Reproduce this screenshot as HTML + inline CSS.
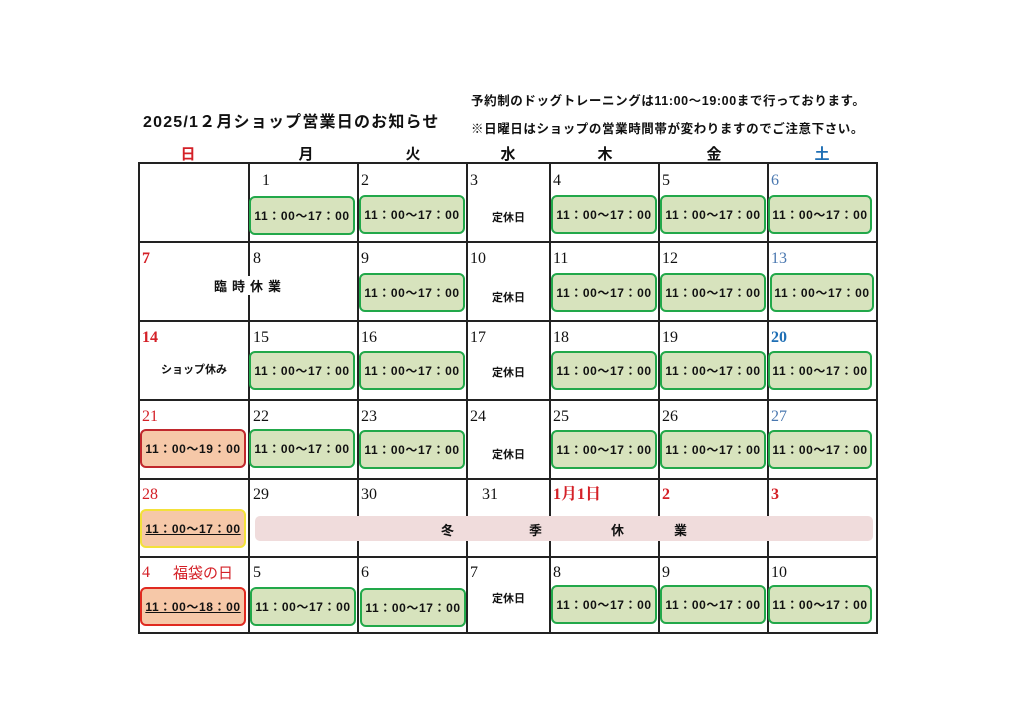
<!DOCTYPE html>
<html><head><meta charset="utf-8"><style>
*{margin:0;padding:0;box-sizing:border-box}
body{width:1024px;height:724px;background:#fff;position:relative;overflow:hidden;font-family:"Liberation Sans","Noto Sans CJK JP",sans-serif;color:#111}
div,span{position:absolute}
.h{top:143px;font-size:15px;font-weight:bold;width:30px;text-align:center;margin-left:-15px}
.v{background:#222;width:2px}
.hl{background:#222;height:2px;left:139px;width:738px}
.d{font-family:"Liberation Serif","Noto Serif CJK SC",serif;font-size:16px;line-height:18px}
.r{color:#d42027}.bl{color:#4a78b0}
.b{width:106px;height:39px;border:2.5px solid #22a84a;border-radius:6px;background:#d7e3bd;display:flex;align-items:center;justify-content:center;font-size:12px;font-weight:bold;letter-spacing:.6px;white-space:nowrap}
.k{font-size:11px;font-weight:bold}
</style></head><body>
<div style="left:143px;top:108px;font-size:16px;font-weight:bold;letter-spacing:1.2px">2025/1２月ショップ営業日のお知らせ</div>
<div style="left:471px;top:90px;font-size:12.5px;font-weight:bold;letter-spacing:.6px">予約制のドッグトレーニングは11:00～19:00まで行っております。</div>
<div style="left:471px;top:118px;font-size:12.5px;font-weight:bold;letter-spacing:.6px">※日曜日はショップの営業時間帯が変わりますのでご注意下さい。</div>
<span class="h r" style="left:188px">日</span><span class="h" style="left:306px">月</span><span class="h" style="left:413px">火</span><span class="h" style="left:508px">水</span><span class="h" style="left:605px">木</span><span class="h" style="left:714px">金</span><span class="h" style="left:822px;color:#1f6fb5">土</span>
<div class="hl" style="top:162px"></div><div class="hl" style="top:241px"></div><div class="hl" style="top:320px"></div><div class="hl" style="top:399px"></div><div class="hl" style="top:478px"></div><div class="hl" style="top:556px"></div><div class="hl" style="top:632px"></div>
<div class="v" style="left:138px;top:162px;height:472px"></div><div class="v" style="left:248px;top:162px;height:472px"></div><div class="v" style="left:357px;top:162px;height:472px"></div><div class="v" style="left:466px;top:162px;height:472px"></div><div class="v" style="left:549px;top:162px;height:472px"></div><div class="v" style="left:658px;top:162px;height:472px"></div><div class="v" style="left:767px;top:162px;height:472px"></div><div class="v" style="left:876px;top:162px;height:472px"></div>
<span class="d" style="left:262px;top:172px">1</span><span class="d" style="left:361px;top:172px">2</span><span class="d" style="left:470px;top:172px">3</span><span class="d" style="left:553px;top:172px">4</span><span class="d" style="left:662px;top:172px">5</span><span class="d bl" style="left:771px;top:172px">6</span>
<div class="b" style="left:249px;top:196px">11：00～17：00</div><div class="b" style="left:359px;top:195px">11：00～17：00</div><span class="k" style="left:492px;top:209px">定休日</span><div class="b" style="left:551px;top:195px">11：00～17：00</div><div class="b" style="left:660px;top:195px">11：00～17：00</div><div class="b" style="left:768px;top:195px;width:104px">11：00～17：00</div>
<span class="d r" style="left:142px;top:250px;font-weight:bold">7</span><span class="d" style="left:253px;top:250px">8</span><span class="d" style="left:361px;top:250px">9</span><span class="d" style="left:470px;top:250px">10</span><span class="d" style="left:553px;top:250px">11</span><span class="d" style="left:662px;top:250px">12</span><span class="d bl" style="left:771px;top:250px">13</span>
<span style="left:214px;top:276px;font-size:13px;font-weight:bold;letter-spacing:5px;background:#fff">臨時休業</span>
<div class="b" style="left:359px;top:273px">11：00～17：00</div><span class="k" style="left:492px;top:289px">定休日</span><div class="b" style="left:551px;top:273px">11：00～17：00</div><div class="b" style="left:660px;top:273px">11：00～17：00</div><div class="b" style="left:770px;top:273px;width:104px">11：00～17：00</div>
<span class="d r" style="left:142px;top:329px;font-weight:bold">14</span><span class="d" style="left:253px;top:329px">15</span><span class="d" style="left:361px;top:329px">16</span><span class="d" style="left:470px;top:329px">17</span><span class="d" style="left:553px;top:329px">18</span><span class="d" style="left:662px;top:329px">19</span><span class="d" style="left:771px;top:329px;color:#1f6fb5;font-weight:bold">20</span>
<span class="k" style="left:161px;top:361px">ショップ休み</span>
<div class="b" style="left:249px;top:351px">11：00～17：00</div><div class="b" style="left:359px;top:351px">11：00～17：00</div><span class="k" style="left:492px;top:364px">定休日</span><div class="b" style="left:551px;top:351px">11：00～17：00</div><div class="b" style="left:660px;top:351px">11：00～17：00</div><div class="b" style="left:768px;top:351px;width:104px">11：00～17：00</div>
<span class="d r" style="left:142px;top:408px">21</span><span class="d" style="left:253px;top:408px">22</span><span class="d" style="left:361px;top:408px">23</span><span class="d" style="left:470px;top:408px">24</span><span class="d" style="left:553px;top:408px">25</span><span class="d" style="left:662px;top:408px">26</span><span class="d bl" style="left:771px;top:408px">27</span>
<div class="b" style="left:140px;top:429px;border-color:#c0282d;background:#f6c8a8">11：00～19：00</div>
<div class="b" style="left:249px;top:429px">11：00～17：00</div><div class="b" style="left:359px;top:430px">11：00～17：00</div><span class="k" style="left:492px;top:446px">定休日</span><div class="b" style="left:551px;top:430px">11：00～17：00</div><div class="b" style="left:660px;top:430px">11：00～17：00</div><div class="b" style="left:768px;top:430px;width:104px">11：00～17：00</div>
<span class="d r" style="left:142px;top:486px">28</span><span class="d" style="left:253px;top:486px">29</span><span class="d" style="left:361px;top:486px">30</span><span class="d" style="left:482px;top:486px">31</span><span class="d r" style="left:553px;top:486px;font-weight:bold">1月1日</span><span class="d r" style="left:662px;top:486px;font-weight:bold">2</span><span class="d r" style="left:771px;top:486px;font-weight:bold">3</span>
<div class="b" style="left:140px;top:509px;border-color:#f3e13a;background:#f6c8a8;text-decoration:underline">11：00～17：00</div>
<div style="left:255px;top:516px;width:618px;height:25px;background:#f0dcdc;border-radius:5px"></div>
<span class="k" style="left:441px;top:520px;font-size:13px">冬</span><span class="k" style="left:529px;top:520px;font-size:13px">季</span><span class="k" style="left:611px;top:520px;font-size:13px">休</span><span class="k" style="left:674px;top:520px;font-size:13px">業</span>
<span class="d r" style="left:142px;top:564px">4</span><span class="r" style="left:173px;top:562px;font-size:15px">福袋の日</span><span class="d" style="left:253px;top:564px">5</span><span class="d" style="left:361px;top:564px">6</span><span class="d" style="left:470px;top:564px">7</span><span class="d" style="left:553px;top:564px">8</span><span class="d" style="left:662px;top:564px">9</span><span class="d" style="left:771px;top:564px">10</span>
<div class="b" style="left:140px;top:587px;border-color:#e02a20;background:#f6c8a8;text-decoration:underline">11：00～18：00</div>
<div class="b" style="left:250px;top:587px">11：00～17：00</div><div class="b" style="left:360px;top:588px">11：00～17：00</div><span class="k" style="left:492px;top:590px">定休日</span><div class="b" style="left:551px;top:585px">11：00～17：00</div><div class="b" style="left:660px;top:585px">11：00～17：00</div><div class="b" style="left:768px;top:585px;width:104px">11：00～17：00</div>
</body></html>
